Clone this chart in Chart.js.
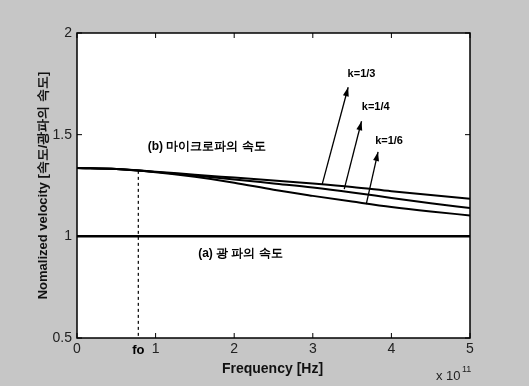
<!DOCTYPE html>
<html>
<head>
<meta charset="utf-8">
<script src="https://cdn.jsdelivr.net/npm/chart.js@4/dist/chart.umd.min.js"></script>
<style>
  html, body { margin: 0; padding: 0; background: #c6c6c6; }
  #wrap { width: 529px; height: 386px; }
</style>
</head>
<body>
<div id="wrap"><canvas id="c" width="529" height="386"></canvas></div>
<script>
// Frequency axis (units of 1e11 Hz)
const freq = [0, 0.5, 1, 1.5, 2, 2.5, 3, 3.5, 4, 4.5, 5];
// Normalized microwave velocity for each k
const velK3 = [1.336, 1.331, 1.318, 1.303, 1.289, 1.275, 1.260, 1.243, 1.222, 1.203, 1.185];
const velK4 = [1.336, 1.331, 1.317, 1.299, 1.280, 1.260, 1.240, 1.216, 1.189, 1.163, 1.139];
const velK6 = [1.336, 1.331, 1.315, 1.293, 1.264, 1.229, 1.199, 1.171, 1.144, 1.122, 1.103];
// Normalized optical velocity
const velLight = [1, 1, 1, 1, 1, 1, 1, 1, 1, 1, 1];

// Cutoff frequency marker
const foFreq = 0.78;
const foTop = 1.322;

// k labels with their pointer arrows: [start x, start y] -> [tip x, tip y]
const kLabels = ['k=1/3', 'k=1/4', 'k=1/6'];
const kArrowStart = [[3.12, 1.257], [3.40, 1.232], [3.68, 1.158]];
const kArrowTip = [[3.45, 1.733], [3.62, 1.566], [3.83, 1.415]];
const kLabelPos = [[3.62, 1.80], [3.80, 1.635], [3.97, 1.468]];

// Tick values
const xTicks = [0, 1, 2, 3, 4, 5];
const yTicks = [0.5, 1, 1.5, 2];

const pts = (ys) => freq.map((f, i) => ({ x: f, y: ys[i] }));
const curve = (ys) => ({
  data: pts(ys), borderColor: '#000', borderWidth: 2, pointRadius: 0,
  cubicInterpolationMode: 'monotone', fill: false
});

const datasets = [
  curve(velK3), curve(velK4), curve(velK6),
  { data: pts(velLight), borderColor: '#000', borderWidth: 2.5, pointRadius: 0, fill: false },
  { data: [{ x: foFreq, y: foTop }, { x: foFreq, y: 0.5 }], borderColor: '#000',
    borderWidth: 1.2, borderDash: [3, 3], pointRadius: 0, fill: false }
];
kArrowStart.forEach((s, i) => {
  datasets.push({
    data: [{ x: s[0], y: s[1] }, { x: kArrowTip[i][0], y: kArrowTip[i][1] }],
    borderColor: '#000', borderWidth: 1.3, pointRadius: 0, fill: false
  });
});

const FONT = '"Liberation Sans", Arial, sans-serif';

// Box frame, inward ticks, arrowheads and text annotations
const decor = {
  id: 'decor',
  beforeDraw(chart) {
    const { ctx, chartArea: a } = chart;
    ctx.save();
    ctx.fillStyle = '#c6c6c6';
    ctx.fillRect(0, 0, chart.width, chart.height);
    ctx.fillStyle = '#fff';
    ctx.fillRect(a.left, a.top, a.right - a.left, a.bottom - a.top);
    ctx.restore();
  },
  afterDatasetsDraw(chart) {
    const { ctx, chartArea: a, scales: { x, y } } = chart;
    ctx.save();
    ctx.strokeStyle = '#000';
    ctx.lineWidth = 1.5;
    ctx.strokeRect(a.left, a.top, a.right - a.left, a.bottom - a.top);

    ctx.lineWidth = 1;
    const tl = 5;
    xTicks.forEach(v => {
      const px = x.getPixelForValue(v);
      ctx.beginPath();
      ctx.moveTo(px, a.bottom); ctx.lineTo(px, a.bottom - tl);
      ctx.moveTo(px, a.top); ctx.lineTo(px, a.top + tl);
      ctx.stroke();
    });
    yTicks.forEach(v => {
      const py = y.getPixelForValue(v);
      ctx.beginPath();
      ctx.moveTo(a.left, py); ctx.lineTo(a.left + tl, py);
      ctx.moveTo(a.right, py); ctx.lineTo(a.right - tl, py);
      ctx.stroke();
    });

    // arrowheads
    ctx.fillStyle = '#000';
    kArrowStart.forEach((s, i) => {
      const x0 = x.getPixelForValue(s[0]), y0 = y.getPixelForValue(s[1]);
      const x1 = x.getPixelForValue(kArrowTip[i][0]), y1 = y.getPixelForValue(kArrowTip[i][1]);
      const ang = Math.atan2(y1 - y0, x1 - x0);
      const L = 9, W = 3;
      ctx.beginPath();
      ctx.moveTo(x1, y1);
      ctx.lineTo(x1 - L * Math.cos(ang) + W * Math.sin(ang), y1 - L * Math.sin(ang) - W * Math.cos(ang));
      ctx.lineTo(x1 - L * Math.cos(ang) - W * Math.sin(ang), y1 - L * Math.sin(ang) + W * Math.cos(ang));
      ctx.closePath();
      ctx.fill();
    });

    // k labels
    ctx.font = 'bold 11px ' + FONT;
    ctx.textAlign = 'center';
    ctx.textBaseline = 'middle';
    kLabels.forEach((t, i) => {
      ctx.fillText(t, x.getPixelForValue(kLabelPos[i][0]), y.getPixelForValue(kLabelPos[i][1]));
    });

    // curve annotations
    ctx.font = 'bold 12px ' + FONT;
    ctx.fillText('(b) 마이크로파의 속도', x.getPixelForValue(1.65), y.getPixelForValue(1.44));
    ctx.fillText('(a) 광 파의 속도', x.getPixelForValue(2.08), y.getPixelForValue(0.915));

    // fo label under the axis
    ctx.font = 'bold 13px ' + FONT;
    ctx.fillText('fo', x.getPixelForValue(foFreq), a.bottom + 12);

    // axis titles
    ctx.font = 'bold 14px ' + FONT;
    ctx.fillStyle = '#111';
    ctx.fillText('Frequency [Hz]', (a.left + a.right) / 2 - 1, a.bottom + 31);

    ctx.save();
    ctx.translate(43, (a.top + a.bottom) / 2);
    ctx.rotate(-Math.PI / 2);
    ctx.font = 'bold 13px ' + FONT;
    ctx.fillText('Nomalized velocity [속도/광파의 속도]', 0, 0);
    ctx.restore();

    // exponent of the frequency axis
    ctx.font = '13px ' + FONT;
    ctx.fillStyle = '#222';
    ctx.textAlign = 'left';
    ctx.fillText('x 10', a.right - 34, a.bottom + 38);
    ctx.font = '9px ' + FONT;
    ctx.fillText('11', a.right - 8, a.bottom + 32);
    ctx.restore();
  }
};

new Chart(document.getElementById('c'), {
  type: 'line',
  data: { datasets },
  plugins: [decor],
  options: {
    responsive: false,
    animation: false,
    devicePixelRatio: 1,
    layout: { padding: { top: 33, right: 59, left: 0, bottom: 0 } },
    plugins: { legend: { display: false }, tooltip: { enabled: false } },
    scales: {
      x: {
        type: 'linear', min: 0, max: 5,
        afterBuildTicks: (s) => { s.ticks = xTicks.map(v => ({ value: v })); },
        ticks: { color: '#222', font: { family: FONT, size: 14 }, padding: 3,
                 callback: (v) => String(v) },
        grid: { display: false, drawTicks: false },
        border: { display: false },
        afterFit: (s) => { s.height = 48; }
      },
      y: {
        type: 'linear', min: 0.5, max: 2,
        afterBuildTicks: (s) => { s.ticks = yTicks.map(v => ({ value: v })); },
        ticks: { color: '#222', font: { family: FONT, size: 14 }, padding: 5,
                 callback: (v) => String(v) },
        grid: { display: false, drawTicks: false },
        border: { display: false },
        afterFit: (s) => { s.width = 77; }
      }
    }
  }
});
</script>
</body>
</html>
